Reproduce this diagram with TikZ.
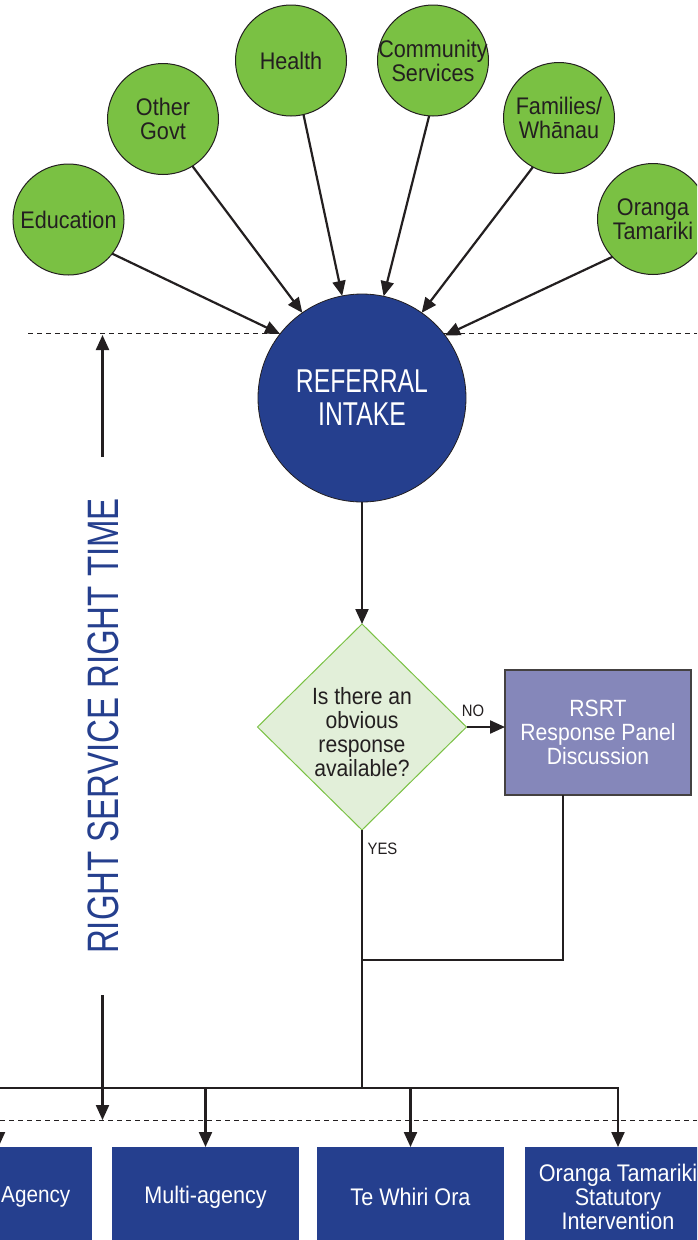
\documentclass[tikz,border=0pt]{standalone}
\usepackage{fontspec}
\setmainfont{Liberation Sans}[FakeStretch=0.9]
\newfontfamily\condfont{Liberation Sans}[FakeStretch=0.75]
\usetikzlibrary{arrows.meta,shapes.geometric}
\definecolor{rblue}{HTML}{253F8E}
\definecolor{ggreen}{HTML}{7AC143}
\definecolor{dfill}{HTML}{E2EFD9}
\definecolor{rsrtfill}{HTML}{8587BA}
\definecolor{ink}{HTML}{231F20}
\newcommand\myfs[2]{\fontsize{#1pt}{#2pt}\selectfont}
\begin{document}
\begin{tikzpicture}[x=1pt,y=-1pt,
  conn/.style={draw=ink, line width=2.2pt},
  arr/.style={conn, -{Triangle[length=15pt,width=13pt]}},
  guide/.style={draw=ink, line width=0.9pt, dash pattern=on 5pt off 4pt},
  gcirc/.style={circle, fill=ggreen, draw=ink, line width=1pt, minimum size=111pt, inner sep=0pt, outer sep=0pt},
  ctext/.style={text=ink, align=center, font=\myfs{24}{24}, inner sep=0pt},
  ricirc/.style={circle, fill=rblue, draw=ink, line width=0.8pt, minimum size=208pt, inner sep=0pt, outer sep=0pt, text=white, align=center, font=\condfont\myfs{33}{33}},
  diam/.style={diamond, fill=dfill, draw=ggreen, line width=1pt, minimum width=209pt, minimum height=206pt, inner sep=0pt, outer sep=0pt},
  dtext/.style={text=ink, align=center, font=\myfs{23.5}{24}, inner sep=0pt},
  rsrtbox/.style={rectangle, fill=rsrtfill, draw=ink!85, line width=1.2pt, minimum width=186pt, minimum height=125pt, text=white, align=center, font=\myfs{23.5}{24}, inner sep=0pt, outer sep=0pt},
  smalltext/.style={text=ink, font=\myfs{16.5}{17}, inner sep=0pt},
  obox/.style={rectangle, fill=rblue, minimum width=187pt, minimum height=100pt, text=white, align=center, font=\myfs{24}{24}, inner sep=0pt, outer sep=0pt},
  btext/.style={text=white, font=\myfs{23}{24}, inner sep=0pt},
  vtext/.style={rotate=90, text=rblue, font=\condfont\myfs{44}{44}, inner sep=0pt}
]
\useasboundingbox (0,0) rectangle (697,1240);
\fill[white] (0,0) rectangle (697,1240);
\clip (0,0) rectangle (697,1240);

% dashed guides
\draw[guide] (28,333) -- (697,333);
\draw[guide] (0,1120) -- (697,1120);

% referral sources
\node[gcirc] (edu) at (68.5,219.5) {};
\node[ctext] (edut) at (edu) {Education};
\node[gcirc] (og) at (163,119) {};
\node[ctext] (ogt) at (og) {Other\\Govt};
\node[gcirc] (he) at (291,60.5) {};
\node[ctext] (het) at (he) {Health};
\node[gcirc] (cs) at (433,60.5) {};
\node[ctext] (cst) at (cs) {Community\\Services};
\node[gcirc] (fw) at (559,118) {};
\node[ctext] (fwt) at (fw) {Families/\\Whānau};
\node[gcirc] (ot) at (653,219) {};
\node[ctext] (ott) at (ot) {Oranga\\Tamariki};

% referral intake
\node[ricirc] (ri) at (362,398) {REFERRAL\\INTAKE};

\draw[arr] (edu.-38.6) -- (ri.142.5);
\draw[arr] (og.-58.5) -- (ri.125.2);
\draw[arr] (he.-77.8) -- (ri.101.1);
\draw[arr] (cs.-94.1) -- (ri.78.9);
\draw[arr] (fw.-118.4) -- (ri.55.7);
\draw[arr] (ot.-137.2) -- (ri.37.4);

% decision
\node[diam] (dia) at (362,727) {};
\node[dtext] (diat) at (362,732) {Is there an\\obvious\\response\\available?};
\draw[arr] (ri.south) -- (dia.north);

\node[rsrtbox] (rsrt) at (598,732.5) {RSRT\\Response Panel\\Discussion};
\draw[arr] (dia.east) -- (dia.east -| rsrt.west);
\node[smalltext] (no) at (473,711) {NO};
\node[smalltext] (yes) at (382.5,848.5) {YES};

\coordinate (rb) at (563,960);
\draw[conn] (rsrt.south -| rb) -- (rb) -- (rb -| dia.south);
\coordinate (bus) at (362,1088);
\draw[conn] (dia.south) -- (bus);

% outcome boxes
\node[obox] (b1) at (-1.5,1197) {};
\node[btext, anchor=west] (b1t) at (1,1197) {Agency};
\node[obox] (b2) at (205.5,1197) {Multi-agency};
\node[obox] (b3) at (410.5,1197) {Te Whiri Ora};
\node[obox] (b4) at (618,1197) {Oranga Tamariki\\Statutory\\Intervention};

\draw[arr] (bus) -- (b4.north |- bus) -- (b4.north);
\draw[arr] (bus) -- (b1.north |- bus) -- (b1.north);
\draw[arr] (b2.north |- bus) -- (b2.north);
\draw[arr] (b3.north |- bus) -- (b3.north);

% side label
\coordinate (uptail) at (102.5,457);
\coordinate (uptip) at (102.5,335);
\draw[arr] (uptail) -- (uptip);
\node[vtext] (side) at (103,726) {RIGHT SERVICE RIGHT TIME};
\coordinate (dntail) at (102.5,995);
\coordinate (dntip) at (102.5,1120);
\draw[arr] (dntail) -- (dntip);
\end{tikzpicture}
\end{document}
